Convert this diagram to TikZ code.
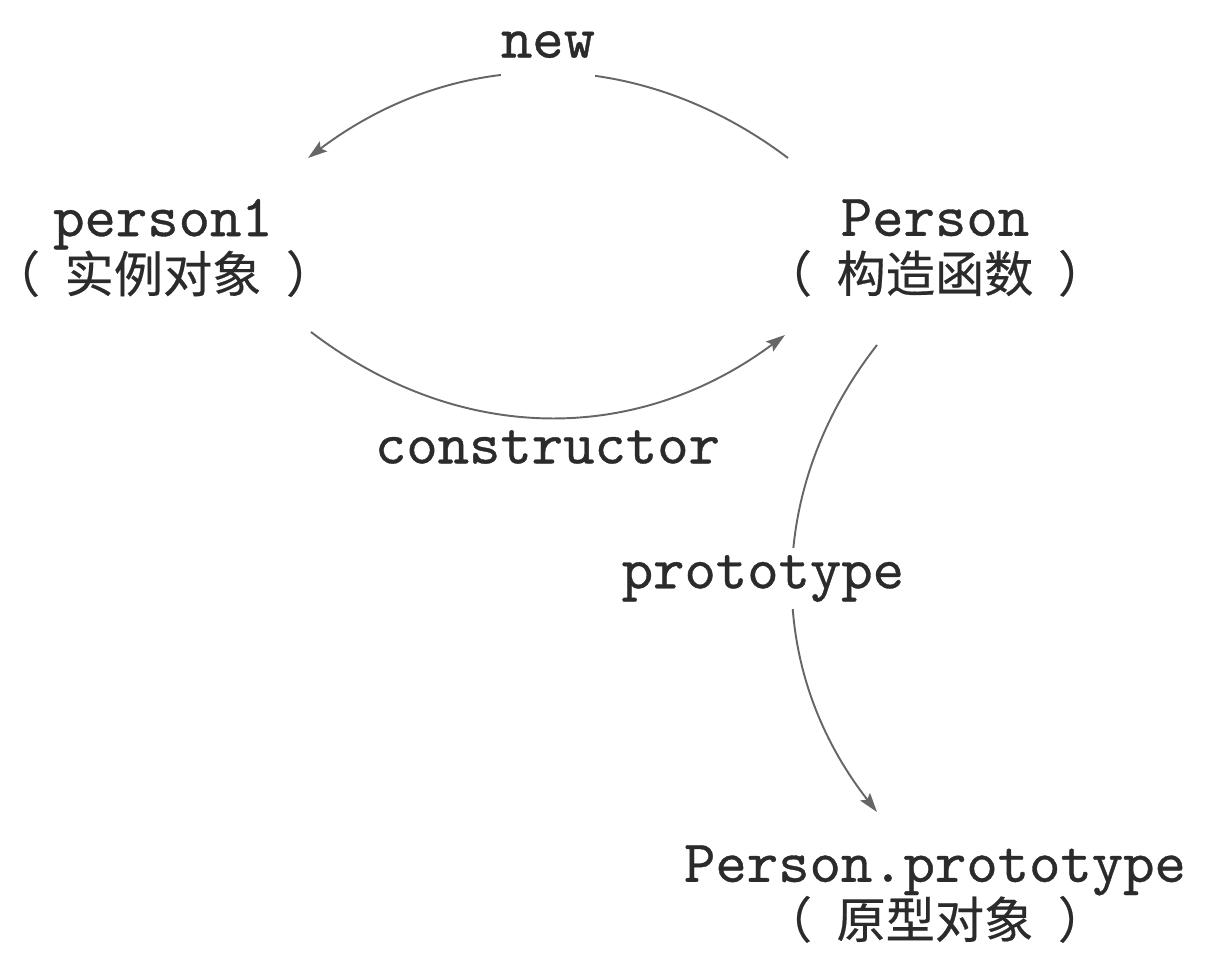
\documentclass[tikz,border=0pt]{standalone}
\usepackage{fontspec}
\setmonofont{lmmono10-regular.otf}[FakeBold=0.6]
\newfontfamily\cjk{Noto Sans CJK SC}[FakeBold=0.4]
\usetikzlibrary{arrows.meta}
\definecolor{textgray}{HTML}{2B2B2B}
\definecolor{linegray}{HTML}{666666}
\newcommand{\lat}{\fontsize{34}{32}\ttfamily}
\newcommand{\paren}[1]{\kern-0.55em（\hspace{0.5em}#1\hspace{0.5em}）\kern-0.55em}
\tikzset{
  obj/.style={align=center, inner sep=0pt, text=textgray, font=\fontsize{28}{32}\selectfont},
  lbl/.style={inner sep=0pt, text=textgray, font=\fontsize{34}{32}\ttfamily},
  link/.style={draw=linegray, line width=1.1pt, -{Stealth[length=11pt,width=7pt,inset=2pt]}},
}
\begin{document}
\begin{tikzpicture}[x=0.02cm, y=-0.02cm]
  \useasboundingbox (0,0) rectangle (1216,978);

  % Objects
  \node[obj] (person1) at (163,248) {{\lat person1}\\{\cjk \paren{实例对象}}};
  \node[obj] (Person) at (935,248) {{\lat Person}\\{\cjk \paren{构造函数}}};
  \node[obj] (proto) at (935,894) {{\lat Person.prototype}\\{\cjk \paren{原型对象}}};

  % new
  \draw[link] ([shift={(-147,-90)}]Person.center) to[bend right=37]
    node[lbl, anchor=base, yshift=0.32cm, fill=white, text depth=0.4cm] (new) {new}
    ([shift={(145,-90)}]person1.center);

  % constructor
  \draw[link] ([shift={(148,84)}]person1.center) to[bend right=37]
    node[lbl, anchor=north, yshift=-0.24cm] (constructor) {constructor}
    ([shift={(-150,87)}]Person.center);

  % prototype
  \draw[link] ([shift={(-58,97)}]Person.center) to[bend right=38]
    node[lbl, xshift=-0.6cm, fill=white, inner sep=4pt] (prototype) {prototype}
    ([shift={(-58,-82)}]proto.center);
\end{tikzpicture}
\end{document}
